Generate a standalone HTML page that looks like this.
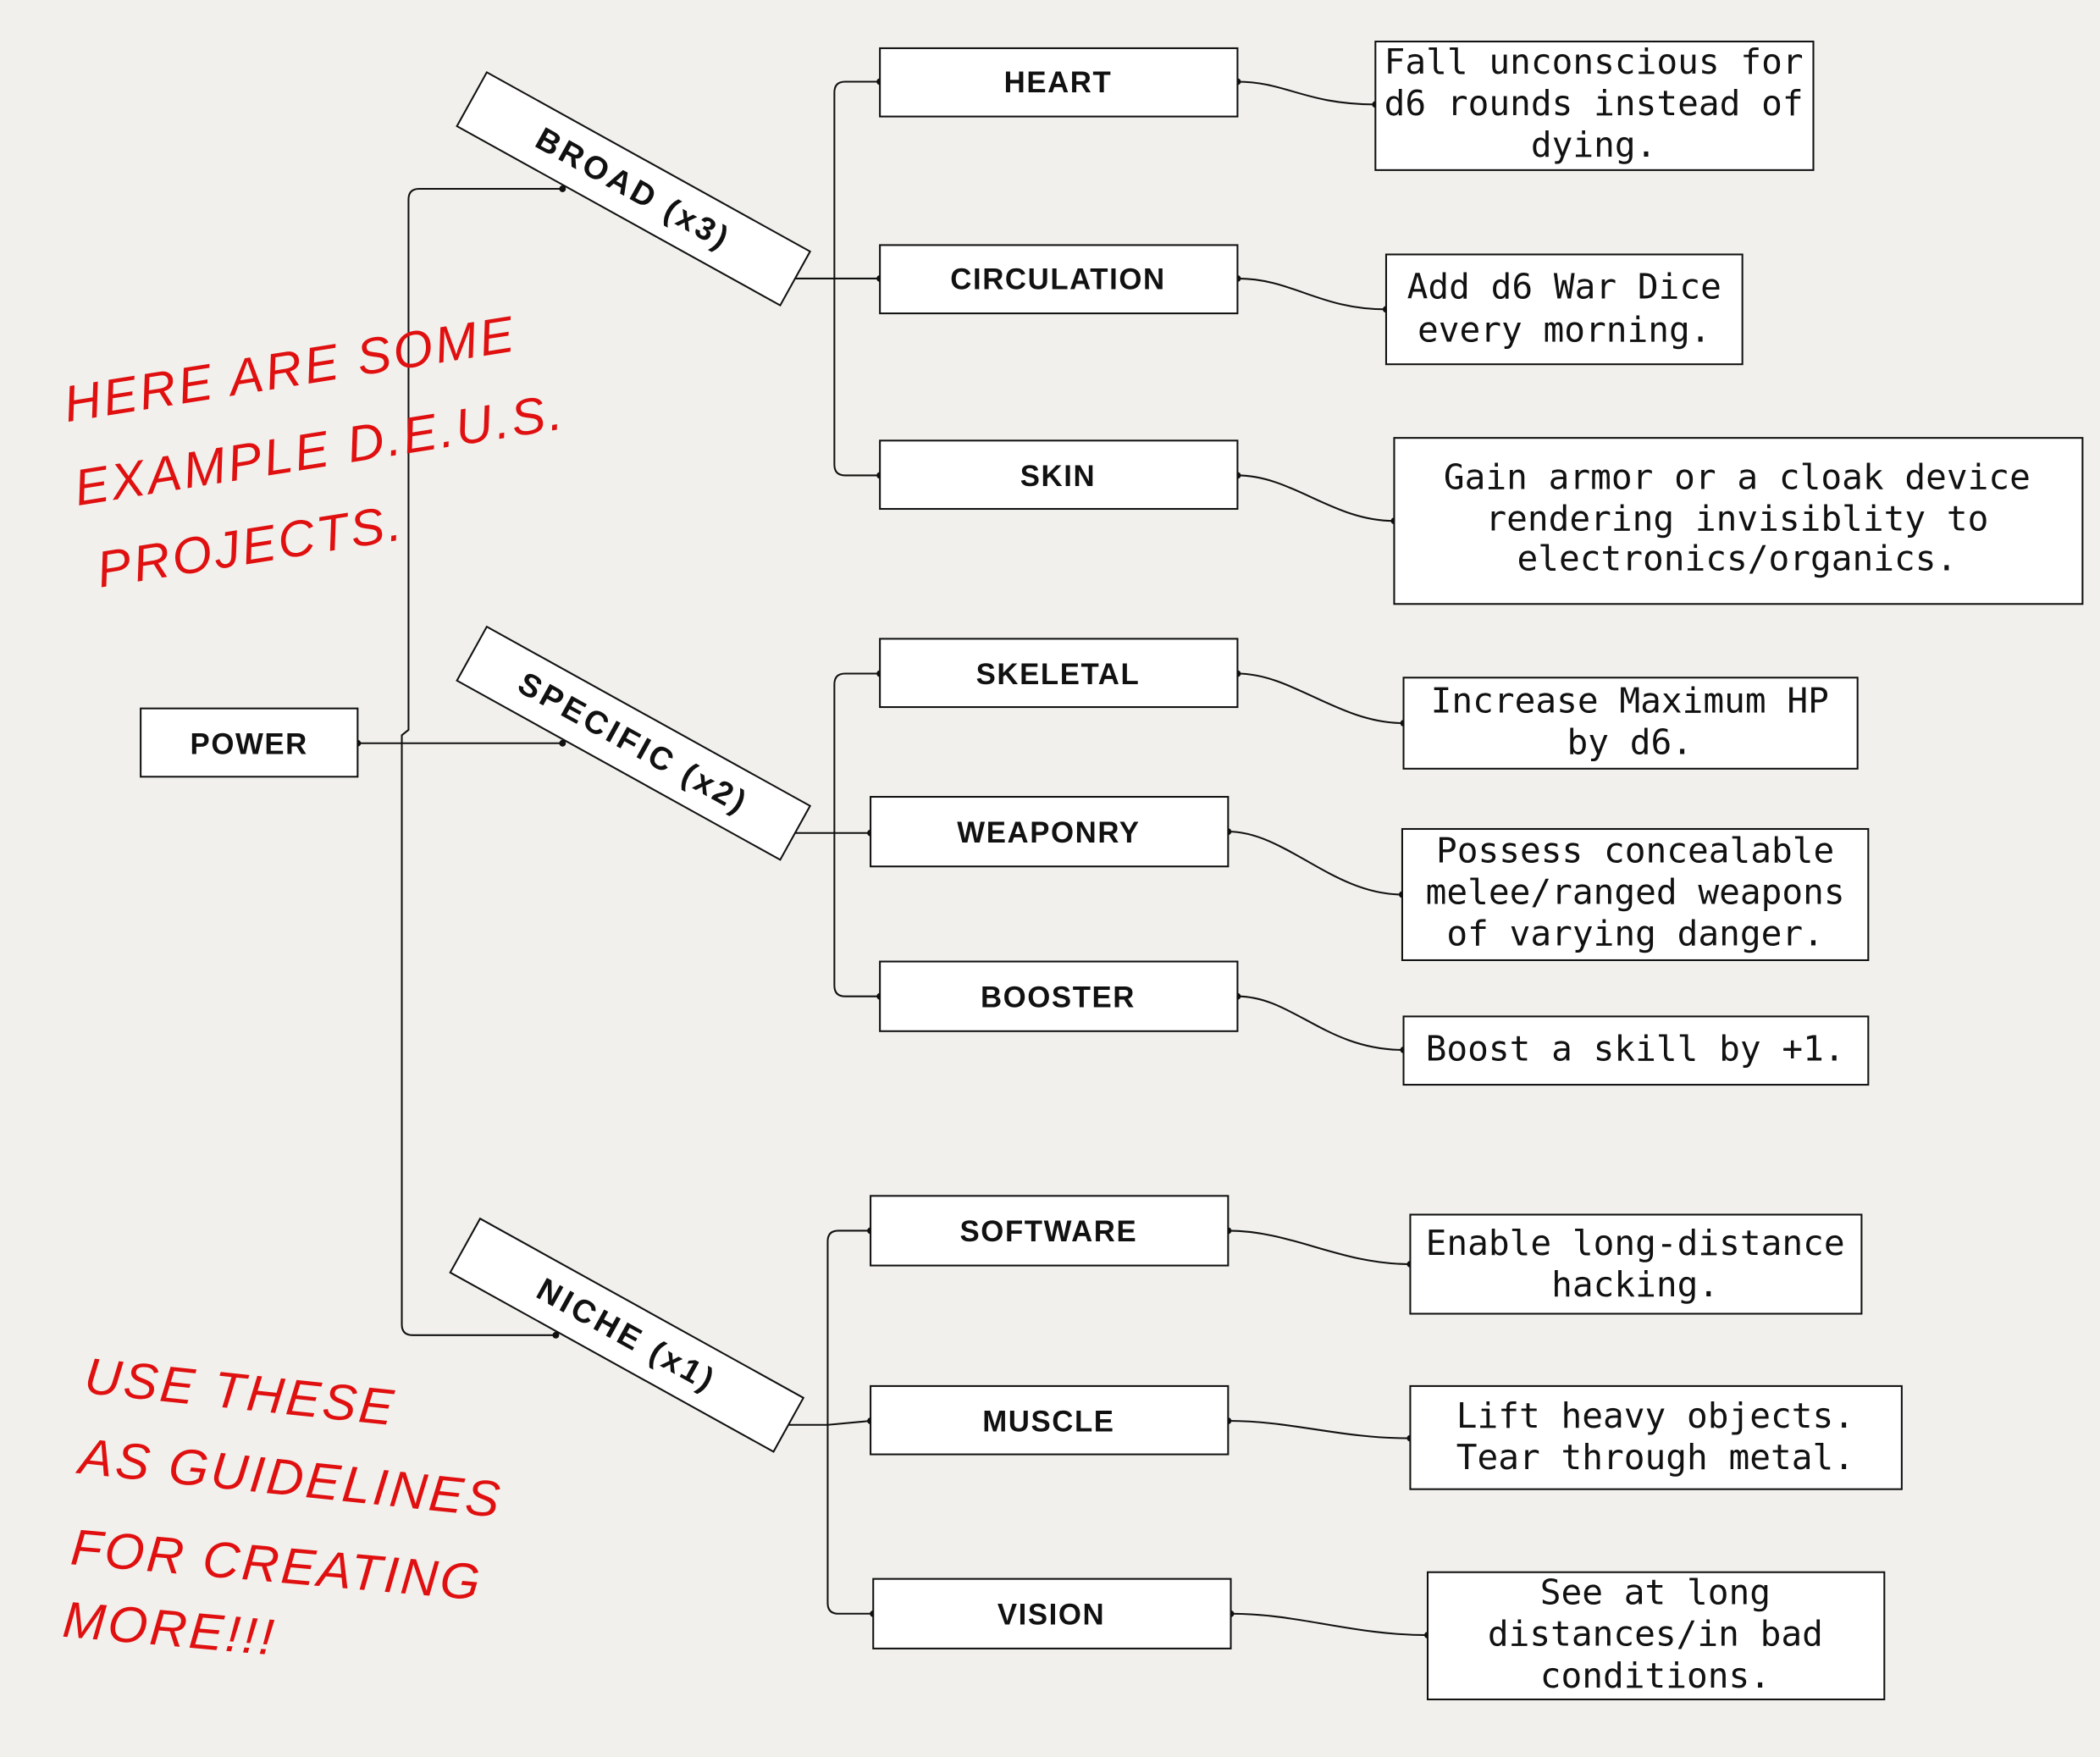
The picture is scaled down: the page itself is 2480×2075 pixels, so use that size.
<!DOCTYPE html>
<html><head><meta charset="utf-8"><style>
html,body{margin:0;padding:0;background:#f1f0ec;}
svg{display:block}
.lbl{font-family:"Liberation Sans",sans-serif;font-weight:bold;font-size:22px;fill:#111;text-anchor:middle;letter-spacing:1px}
.rl{font-family:"Liberation Sans",sans-serif;font-weight:bold;font-size:24px;fill:#111;text-anchor:middle;letter-spacing:2.5px}
.d{font-family:"DejaVu Sans Mono","Liberation Mono",monospace;font-size:26px;fill:#111;text-anchor:middle}
.h{font-family:"Liberation Sans",sans-serif;font-style:italic;font-size:38px;fill:#e01010;letter-spacing:2px}
</style></head><body>
<svg width="2480" height="2075" viewBox="0 0 1568 1312" xmlns="http://www.w3.org/2000/svg">
<rect width="1568" height="1312" fill="#f1f0ec"/>
<g fill="none" stroke="#111" stroke-width="1.3">
<path d="M267 555 H300 V549 L305 545 V149 Q305 141 313 141 H420"/>
<path d="M300 555 H420"/>
<path d="M300 555 V989 Q300 997 308 997 H415"/>
<path d="M590 208 H623 V69 Q623 61 631 61 H657"/>
<path d="M623 208 H657"/>
<path d="M623 208 V347 Q623 355 631 355 H657"/>
<path d="M590 622 H623 V511 Q623 503 631 503 H657"/>
<path d="M623 622 H650"/>
<path d="M623 622 V736 Q623 744 631 744 H657"/>
<path d="M583 1064 H618 V927 Q618 919 626 919 H650"/>
<path d="M618 1064 L650 1061"/>
<path d="M618 1064 V1197 Q618 1205 626 1205 H652"/>
<path d="M924 61 C960 61 975 78 1027 78"/>
<path d="M924 208 C965 208 985 231 1035 231"/>
<path d="M924 355 C965 355 995 389 1041 389"/>
<path d="M924 503 C965 503 1000 540 1048 540"/>
<path d="M917 621 C960 621 995 668 1047 668"/>
<path d="M924 744 C965 744 990 784 1048 784"/>
<path d="M917 919 C965 919 1000 944 1053 944"/>
<path d="M917 1061 C965 1061 1000 1074 1053 1074"/>
<path d="M919 1205 C970 1205 1010 1221 1066 1221"/>
</g>
<g fill="#111">
<circle cx="267" cy="555" r="2.5"/><circle cx="420" cy="141" r="2.5"/><circle cx="420" cy="555" r="2.5"/><circle cx="415" cy="997" r="2.5"/>
<circle cx="590" cy="208" r="2.5"/><circle cx="590" cy="622" r="2.5"/><circle cx="583" cy="1064" r="2.5"/>
<circle cx="657" cy="61" r="2.5"/><circle cx="657" cy="208" r="2.5"/><circle cx="657" cy="355" r="2.5"/>
<circle cx="657" cy="503" r="2.5"/><circle cx="650" cy="622" r="2.5"/><circle cx="657" cy="744" r="2.5"/>
<circle cx="650" cy="919" r="2.5"/><circle cx="650" cy="1061" r="2.5"/><circle cx="652" cy="1205" r="2.5"/>
<circle cx="924" cy="61" r="2.5"/><circle cx="924" cy="208" r="2.5"/><circle cx="924" cy="355" r="2.5"/>
<circle cx="924" cy="503" r="2.5"/><circle cx="917" cy="621" r="2.5"/><circle cx="924" cy="744" r="2.5"/>
<circle cx="917" cy="919" r="2.5"/><circle cx="917" cy="1061" r="2.5"/><circle cx="919" cy="1205" r="2.5"/>
<circle cx="1027" cy="78" r="2.5"/><circle cx="1035" cy="231" r="2.5"/><circle cx="1041" cy="389" r="2.5"/>
<circle cx="1048" cy="540" r="2.5"/><circle cx="1047" cy="668" r="2.5"/><circle cx="1048" cy="784" r="2.5"/>
<circle cx="1053" cy="944" r="2.5"/><circle cx="1053" cy="1074" r="2.5"/><circle cx="1066" cy="1221" r="2.5"/>
</g>
<g fill="#fff" stroke="#111" stroke-width="1.3">
<rect x="105" y="529" width="162" height="51"/>
<rect x="657" y="36" width="267" height="51"/>
<rect x="657" y="183" width="267" height="51"/>
<rect x="657" y="329" width="267" height="51"/>
<rect x="657" y="477" width="267" height="51"/>
<rect x="650" y="595" width="267" height="52"/>
<rect x="657" y="718" width="267" height="52"/>
<rect x="650" y="893" width="267" height="52"/>
<rect x="650" y="1035" width="267" height="51"/>
<rect x="652" y="1179" width="267" height="52"/>
<rect x="1027" y="31" width="327" height="96"/>
<rect x="1035" y="190" width="266" height="82"/>
<rect x="1041" y="327" width="514" height="124"/>
<rect x="1048" y="506" width="339" height="68"/>
<rect x="1047" y="619" width="348" height="98"/>
<rect x="1048" y="759" width="347" height="51"/>
<rect x="1053" y="907" width="337" height="74"/>
<rect x="1053" y="1035" width="367" height="77"/>
<rect x="1066" y="1174" width="341" height="95"/>
<g transform="translate(473,141) rotate(29)"><rect x="-138" y="-23" width="276" height="46"/></g>
<g transform="translate(473,555) rotate(29)"><rect x="-138" y="-23" width="276" height="46"/></g>
<g transform="translate(468,997) rotate(29)"><rect x="-138" y="-23" width="276" height="46"/></g>
</g>
<text class="rl" x="473" y="141" dy="8" transform="rotate(29 473 141)">BROAD (x3)</text>
<text class="rl" x="473" y="555" dy="8" transform="rotate(29 473 555)">SPECIFIC (x2)</text>
<text class="rl" x="468" y="997" dy="8" transform="rotate(29 468 997)">NICHE (x1)</text>
<text class="lbl" x="186" y="563">POWER</text>
<text class="lbl" x="790" y="69">HEART</text>
<text class="lbl" x="790" y="216">CIRCULATION</text>
<text class="lbl" x="790" y="363">SKIN</text>
<text class="lbl" x="790" y="511">SKELETAL</text>
<text class="lbl" x="783" y="629">WEAPONRY</text>
<text class="lbl" x="790" y="752">BOOSTER</text>
<text class="lbl" x="783" y="927">SOFTWARE</text>
<text class="lbl" x="783" y="1069">MUSCLE</text>
<text class="lbl" x="785" y="1213">VISION</text>
<text class="d" x="1190" y="55">Fall unconscious for</text>
<text class="d" x="1190" y="86">d6 rounds instead of</text>
<text class="d" x="1190" y="117">dying.</text>
<text class="d" x="1168" y="223">Add d6 War Dice</text>
<text class="d" x="1168" y="255">every morning.</text>
<text class="d" x="1297" y="365">Gain armor or a cloak device</text>
<text class="d" x="1297" y="396">rendering invisiblity to</text>
<text class="d" x="1297" y="426">electronics/organics.</text>
<text class="d" x="1217" y="532">Increase Maximum HP</text>
<text class="d" x="1217" y="563">by d6.</text>
<text class="d" x="1221" y="644">Possess concealable</text>
<text class="d" x="1221" y="675">melee/ranged weapons</text>
<text class="d" x="1221" y="706">of varying danger.</text>
<text class="d" x="1221" y="792">Boost a skill by +1.</text>
<text class="d" x="1221" y="937">Enable long-distance</text>
<text class="d" x="1221" y="968">hacking.</text>
<text class="d" x="1236" y="1066">Lift heavy objects.</text>
<text class="d" x="1236" y="1097">Tear through metal.</text>
<text class="d" x="1236" y="1198">See at long</text>
<text class="d" x="1236" y="1229">distances/in bad</text>
<text class="d" x="1236" y="1260">conditions.</text>
<g transform="rotate(-9 50 315)">
<text class="h" x="50" y="315">HERE ARE SOME</text>
<text class="h" x="48" y="378">EXAMPLE D.E.U.S.</text>
<text class="h" x="55" y="441">PROJECTS.</text>
</g>
<text class="h" x="62" y="1040" transform="rotate(6 62 1040)">USE THESE</text>
<text class="h" x="58" y="1100" transform="rotate(6 58 1100)">AS GUIDELINES</text>
<text class="h" x="52" y="1168" transform="rotate(5 52 1168)">FOR CREATING</text>
<text class="h" x="46" y="1222" transform="rotate(5 46 1222)">MORE!!!</text>
</svg>
</body></html>
